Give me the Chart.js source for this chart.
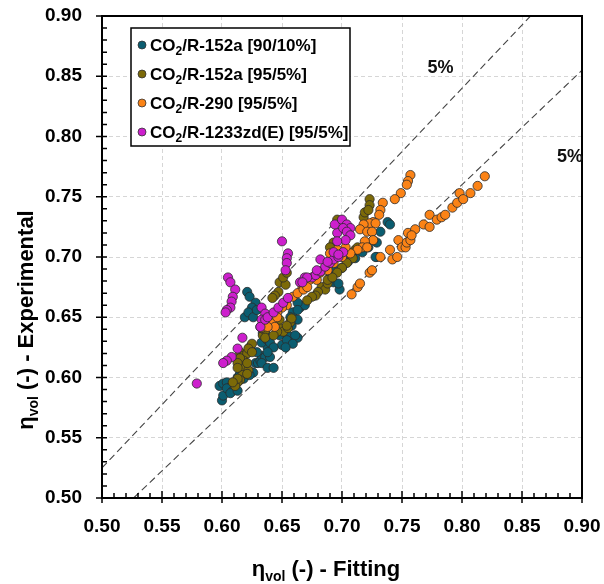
<!DOCTYPE html>
<html>
<head>
<meta charset="utf-8">
<script src="https://cdn.jsdelivr.net/npm/chart.js@4.4.0/dist/chart.umd.min.js"></script>
<style>
  html, body { margin: 0; padding: 0; background: #fff; }
  #wrap { width: 604px; height: 584px; }
</style>
</head>
<body>
<div id="wrap"><canvas id="chart" width="604" height="584"></canvas></div>
<script>
// === Data (x = fitting, y = experimental) ===
const seriesNames = ['CO₂/R-152a [90/10%]', 'CO₂/R-152a [95/5%]', 'CO₂/R-290 [95/5%]', 'CO₂/R-1233zd(E) [95/5%]'];
const seriesColors = ['#0b5d70', '#7c6a08', '#fb8316', '#cd1fcd'];

const r152a_90 = [
  [0.600, 0.581], [0.601, 0.585], [0.598, 0.593], [0.601, 0.595], [0.604, 0.596], [0.608, 0.593],
  [0.604, 0.591], [0.609, 0.589], [0.613, 0.600], [0.615, 0.603], [0.618, 0.599], [0.622, 0.606],
  [0.626, 0.604], [0.628, 0.612], [0.630, 0.612], [0.632, 0.614], [0.633, 0.618], [0.636, 0.617],
  [0.629, 0.621], [0.638, 0.625], [0.633, 0.629], [0.638, 0.631], [0.636, 0.637], [0.623, 0.652],
  [0.619, 0.650], [0.621, 0.671], [0.623, 0.667], [0.628, 0.662], [0.625, 0.658], [0.622, 0.654],
  [0.626, 0.650], [0.629, 0.656], [0.632, 0.642], [0.634, 0.637], [0.640, 0.617], [0.633, 0.612],
  [0.638, 0.608], [0.643, 0.608], [0.623, 0.602], [0.607, 0.587], [0.613, 0.589], [0.665, 0.658],
  [0.669, 0.660], [0.663, 0.662], [0.659, 0.654], [0.657, 0.650], [0.663, 0.648], [0.658, 0.633],
  [0.663, 0.633], [0.650, 0.627], [0.648, 0.635], [0.653, 0.639], [0.663, 0.656], [0.658, 0.643],
  [0.655, 0.635], [0.640, 0.629], [0.643, 0.625], [0.638, 0.621], [0.654, 0.631], [0.661, 0.635],
  [0.659, 0.628], [0.653, 0.625], [0.693, 0.679], [0.738, 0.729], [0.740, 0.727], [0.732, 0.721],
  [0.729, 0.712], [0.729, 0.700], [0.698, 0.673], [0.697, 0.678], [0.726, 0.714], [0.728, 0.700],
  [0.690, 0.683], [0.694, 0.688], [0.700, 0.691], [0.705, 0.696], [0.711, 0.699], [0.717, 0.704],
  [0.722, 0.708]
];
const r152a_95 = [
  [0.615, 0.621], [0.618, 0.618], [0.621, 0.620], [0.623, 0.625], [0.625, 0.628], [0.622, 0.624],
  [0.618, 0.614], [0.615, 0.616], [0.613, 0.612], [0.619, 0.608], [0.622, 0.606], [0.617, 0.602],
  [0.615, 0.598], [0.613, 0.596], [0.611, 0.593], [0.634, 0.635], [0.636, 0.639], [0.648, 0.679],
  [0.653, 0.677], [0.651, 0.683], [0.654, 0.687], [0.647, 0.671], [0.644, 0.668], [0.638, 0.648],
  [0.640, 0.645], [0.647, 0.642], [0.651, 0.638], [0.655, 0.641], [0.648, 0.648], [0.633, 0.641],
  [0.636, 0.633], [0.625, 0.621], [0.613, 0.608], [0.621, 0.612], [0.621, 0.603], [0.613, 0.599],
  [0.609, 0.596], [0.696, 0.731], [0.693, 0.712], [0.690, 0.708], [0.683, 0.675], [0.686, 0.673],
  [0.680, 0.671], [0.678, 0.668], [0.642, 0.666], [0.688, 0.678], [0.688, 0.681], [0.675, 0.667],
  [0.671, 0.664], [0.657, 0.646], [0.658, 0.649], [0.654, 0.643], [0.646, 0.638], [0.643, 0.635],
  [0.723, 0.748], [0.723, 0.743], [0.718, 0.733], [0.719, 0.737], [0.722, 0.739], [0.707, 0.703],
  [0.709, 0.699], [0.704, 0.695], [0.700, 0.691], [0.696, 0.687], [0.692, 0.683], [0.711, 0.706],
  [0.713, 0.708]
];
const r290_95 = [
  [0.757, 0.768], [0.755, 0.763], [0.754, 0.760], [0.749, 0.753], [0.744, 0.748], [0.734, 0.745],
  [0.732, 0.739], [0.731, 0.735], [0.726, 0.729], [0.723, 0.728], [0.728, 0.728], [0.718, 0.727],
  [0.715, 0.723], [0.721, 0.721], [0.725, 0.721], [0.726, 0.714], [0.719, 0.713], [0.717, 0.708],
  [0.721, 0.708], [0.713, 0.706], [0.707, 0.703], [0.703, 0.708], [0.700, 0.700], [0.694, 0.699],
  [0.690, 0.703], [0.696, 0.706], [0.693, 0.695], [0.688, 0.689], [0.682, 0.687], [0.676, 0.683],
  [0.673, 0.681], [0.679, 0.681], [0.669, 0.675], [0.667, 0.674], [0.659, 0.667], [0.663, 0.670],
  [0.668, 0.673], [0.671, 0.675], [0.654, 0.660], [0.650, 0.658], [0.646, 0.654], [0.642, 0.645],
  [0.644, 0.642], [0.638, 0.642], [0.646, 0.650],
  [0.708, 0.669], [0.713, 0.675], [0.715, 0.678], [0.723, 0.687], [0.725, 0.689], [0.732, 0.700],
  [0.740, 0.706], [0.742, 0.698], [0.746, 0.700], [0.747, 0.714], [0.750, 0.708], [0.753, 0.708],
  [0.754, 0.712], [0.757, 0.714], [0.755, 0.720], [0.761, 0.723], [0.758, 0.718], [0.768, 0.727],
  [0.773, 0.725], [0.773, 0.735], [0.779, 0.731], [0.783, 0.733], [0.786, 0.735], [0.792, 0.741],
  [0.796, 0.745], [0.798, 0.753], [0.801, 0.748], [0.807, 0.753], [0.813, 0.759], [0.819, 0.767]
];
const r1233zd_95 = [
  [0.650, 0.713], [0.655, 0.703], [0.654, 0.699], [0.654, 0.695], [0.653, 0.689], [0.605, 0.683],
  [0.607, 0.679], [0.611, 0.673], [0.609, 0.667], [0.608, 0.663], [0.607, 0.658], [0.604, 0.656],
  [0.603, 0.654], [0.633, 0.658], [0.636, 0.653], [0.633, 0.648], [0.632, 0.642], [0.636, 0.648],
  [0.638, 0.650], [0.643, 0.654], [0.647, 0.658], [0.651, 0.662], [0.655, 0.666], [0.665, 0.679],
  [0.669, 0.683], [0.675, 0.683], [0.678, 0.685], [0.682, 0.688], [0.686, 0.692], [0.690, 0.695],
  [0.693, 0.698], [0.696, 0.720], [0.617, 0.633], [0.613, 0.624], [0.608, 0.617], [0.604, 0.614],
  [0.601, 0.612], [0.579, 0.595], [0.694, 0.727], [0.682, 0.698], [0.688, 0.696], [0.697, 0.700],
  [0.679, 0.689], [0.671, 0.683], [0.667, 0.679], [0.700, 0.731], [0.704, 0.727], [0.707, 0.724],
  [0.701, 0.724], [0.704, 0.721], [0.707, 0.718], [0.703, 0.714], [0.696, 0.713], [0.693, 0.704],
  [0.701, 0.704], [0.697, 0.702]
];

// +/- 5 % band lines, end points
const bandUpper = [[0.50, 0.525], [0.90, 0.945]];
const bandLower = [[0.50, 0.475], [0.90, 0.855]];
const bandLabel = '5%';
const bandLabelPos = [[0.782, 0.857], [0.890, 0.783]];

const axisTicks = [0.50, 0.55, 0.60, 0.65, 0.70, 0.75, 0.80, 0.85, 0.90];
const xTitle = ['η', 'vol', ' (-) - Fitting'];
const yTitle = ['η', 'vol', ' (-) - Experimental'];

const FONT = '"Liberation Sans", Arial, sans-serif';
const toXY = arr => arr.map(p => ({ x: p[0], y: p[1] }));

// draw text with a subscript part: [main, sub, rest]
function drawSubText(c, parts, x, y, size, subSize, align) {
  c.font = 'bold ' + size + 'px ' + FONT;
  const w0 = c.measureText(parts[0]).width;
  const w2 = c.measureText(parts[2]).width;
  c.font = 'bold ' + subSize + 'px ' + FONT;
  const w1 = c.measureText(parts[1]).width;
  const total = w0 + w1 + w2;
  let sx = align === 'center' ? x - total / 2 : x;
  c.textAlign = 'left';
  c.textBaseline = 'alphabetic';
  c.font = 'bold ' + size + 'px ' + FONT;
  c.fillText(parts[0], sx, y);
  c.font = 'bold ' + subSize + 'px ' + FONT;
  c.fillText(parts[1], sx + w0, y + size * 0.22);
  c.font = 'bold ' + size + 'px ' + FONT;
  c.fillText(parts[2], sx + w0 + w1, y);
}

// === Frame, minor ticks, legend, titles ===
const decorPlugin = {
  id: 'decor',
  afterDraw(chart) {
    const c = chart.ctx;
    const a = chart.chartArea;
    const xs = chart.scales.x, ys = chart.scales.y;
    c.save();
    c.strokeStyle = '#000';
    c.lineWidth = 1.5;
    // minor ticks every 0.01, major ticks crossing the axis
    for (let i = 0; i <= 40; i++) {
      const v = 0.5 + i * 0.01;
      const px = xs.getPixelForValue(v), py = ys.getPixelForValue(v);
      const major = i % 5 === 0;
      c.beginPath();
      c.moveTo(px, a.bottom + (major ? 5 : 0)); c.lineTo(px, a.bottom - (major ? 7 : 5));
      c.moveTo(a.left - (major ? 6 : 0), py); c.lineTo(a.left + 5, py);
      c.stroke();
    }
    c.lineWidth = 2;
    c.strokeRect(a.left, a.top, a.right - a.left, a.bottom - a.top);

    // 5 % labels
    c.fillStyle = '#111';
    c.font = 'bold 18px ' + FONT;
    c.textAlign = 'center';
    c.textBaseline = 'middle';
    bandLabelPos.forEach(p => c.fillText(bandLabel, xs.getPixelForValue(p[0]), ys.getPixelForValue(p[1])));

    // legend
    const lx = 131, ly = 28, rowH = 29;
    const boxW = 219, boxH = rowH * seriesNames.length + 2;
    c.fillStyle = '#fff';
    c.fillRect(lx, ly, boxW, boxH);
    c.lineWidth = 1.5;
    c.strokeStyle = '#000';
    c.strokeRect(lx, ly, boxW, boxH);
    seriesNames.forEach((name, i) => {
      const cy = ly + 17 + i * rowH;
      c.beginPath();
      c.arc(lx + 11, cy, 4, 0, Math.PI * 2);
      c.fillStyle = seriesColors[i];
      c.fill();
      c.lineWidth = 0.8;
      c.strokeStyle = '#333';
      c.stroke();
      c.fillStyle = '#000';
      const parts = name.split('₂');
      drawSubText(c, [parts[0], '2', parts[1]], lx + 19, cy + 6, 17, 12, 'left');
    });

    // axis titles
    c.fillStyle = '#000';
    drawSubText(c, xTitle, 326, 576, 22, 14, 'center');
    c.translate(33, 320);
    c.rotate(-Math.PI / 2);
    drawSubText(c, yTitle, 0, 0, 22, 14, 'center');
    c.restore();
  }
};

const pointStyle = (i) => ({
  backgroundColor: seriesColors[i],
  borderColor: '#2b2b2b',
  borderWidth: 0.8,
  pointRadius: 4.6,
  pointHoverRadius: 4.6
});

const bandStyle = {
  type: 'line',
  showLine: true,
  borderColor: '#444',
  borderWidth: 1.1,
  borderDash: [7, 4],
  pointRadius: 0,
  fill: false
};

// tick marks are drawn by the plugin; the invisible tickLength only pushes the labels out
const axisOpts = (isY) => ({
  type: 'linear',
  min: 0.5,
  max: 0.9,
  afterBuildTicks: s => { s.ticks = axisTicks.map(v => ({ value: v })); },
  afterFit: s => { if (isY) s.width = 102; else s.height = 86; },
  ticks: {
    padding: 2,
    color: '#000',
    font: { family: FONT, size: 19, weight: 'bold' },
    callback: v => v.toFixed(2)
  },
  grid: {
    color: '#d6d6d6',
    lineWidth: 1,
    drawTicks: true,
    tickLength: isY ? 18 : 15,
    tickColor: 'rgba(0,0,0,0)'
  },
  border: { display: false, dash: [4, 3] }
});

new Chart(document.getElementById('chart').getContext('2d'), {
  type: 'scatter',
  data: {
    datasets: [
      { label: seriesNames[3], data: toXY(r1233zd_95), ...pointStyle(3) },
      { label: seriesNames[2], data: toXY(r290_95), ...pointStyle(2) },
      { label: seriesNames[1], data: toXY(r152a_95), ...pointStyle(1) },
      { label: seriesNames[0], data: toXY(r152a_90), ...pointStyle(0) },
      { label: 'upper', data: toXY(bandUpper), ...bandStyle },
      { label: 'lower', data: toXY(bandLower), ...bandStyle }
    ]
  },
  options: {
    responsive: false,
    animation: false,
    layout: { padding: { left: 0, top: 16, right: 22, bottom: 0 } },
    plugins: { legend: { display: false }, tooltip: { enabled: false } },
    scales: { x: axisOpts(false), y: axisOpts(true) }
  },
  plugins: [decorPlugin]
});
</script>
</body>
</html>
